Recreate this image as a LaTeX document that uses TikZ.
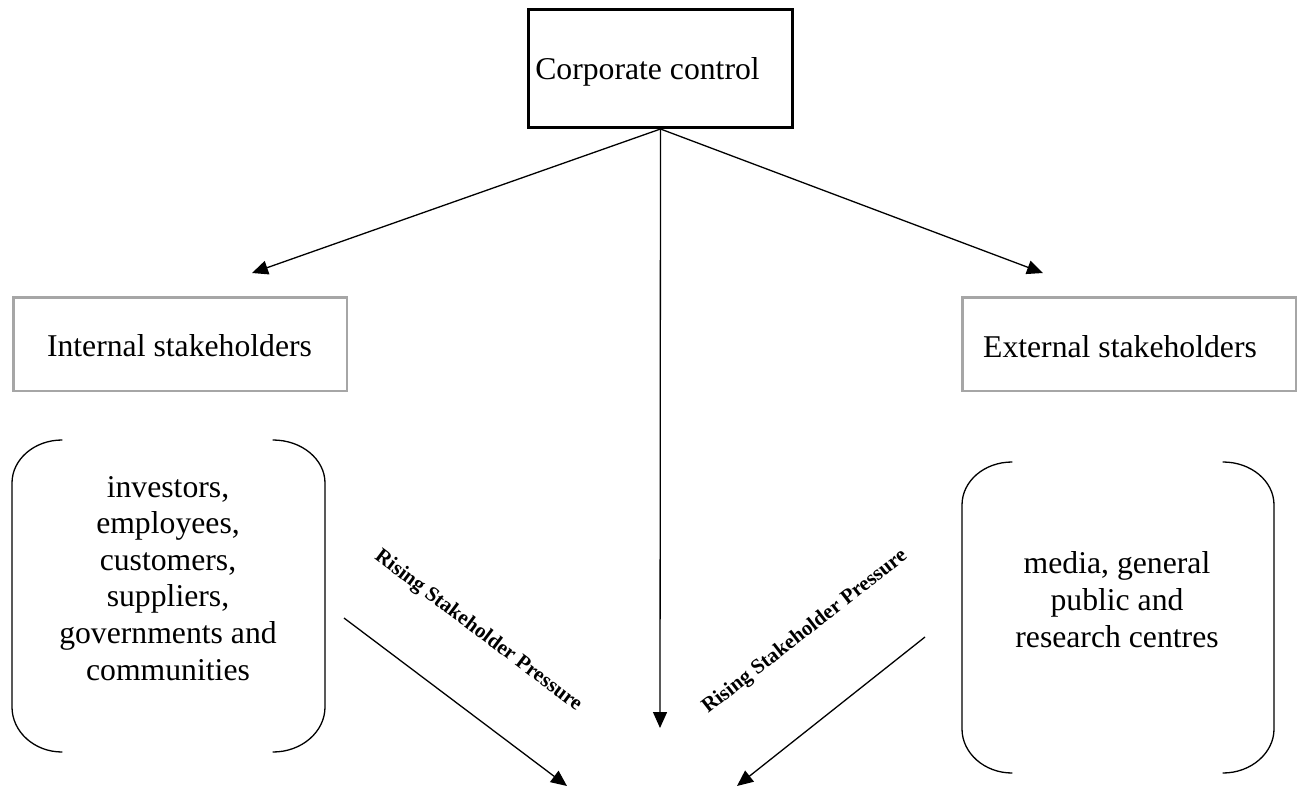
\documentclass[tikz,border=0pt]{standalone}
\usepackage{fontspec}
\setmainfont{Liberation Serif}
\usetikzlibrary{arrows.meta}
\definecolor{boxgray}{HTML}{A6A6A6}
\begin{document}
\begin{tikzpicture}[x=1pt,y=-1pt,
  arr/.style={line width=1.3pt, -{Triangle[length=16pt,width=14pt]}},
  grayframe/.style={draw=boxgray, line width=2.5pt, minimum width=333.5pt, minimum height=93.5pt, inner sep=0pt},
  bigtext/.style={font=\fontsize{31.7}{36.6}\selectfont, inner sep=0pt, anchor=base},
  listtext/.style={bigtext, align=center},
  ristext/.style={font=\fontsize{21}{24}\selectfont\bfseries, inner sep=0pt},
  bracket/.style={line width=1.3pt, line cap=round}]
\useasboundingbox (0,0) rectangle (1303,789);

% main box
\node[draw, line width=3pt, minimum width=264pt, minimum height=118pt, inner sep=0pt] (cc) at (660.5,68.5) {};
\node[bigtext] (cctext) at (647.5,80) {Corporate control};

% stakeholder boxes
\node[grayframe] (intbox) at (180,344) {};
\node[bigtext] (inttext) at (179.5,356) {Internal stakeholders};
\node[grayframe] (extbox) at (1129,344) {};
\node[bigtext] (exttext) at (1120,357) {External stakeholders};

% lists (base = baseline of last line)
\node[listtext] (intlist) at (168,680) {investors,\\employees,\\customers,\\suppliers,\\governments and\\communities};
\node[listtext] (extlist) at (1117,647) {media, general\\public and\\research centres};

% brackets
\draw[bracket] (62,440) .. controls (34.4,440) and (12,459.3) .. (12,483) -- (12,707) .. controls (12,731.8) and (34.4,752) .. (62,752);
\draw[bracket] (273,440) .. controls (301.7,440) and (325,459.3) .. (325,483) -- (325,707) .. controls (325,731.8) and (301.7,752) .. (273,752);
\draw[bracket] (1012,462) .. controls (984.4,462) and (962,481) .. (962,505) -- (962,729) .. controls (962,753) and (984.4,773) .. (1012,773);
\draw[bracket] (1223,462) .. controls (1251,462) and (1274,481) .. (1274,505) -- (1274,729) .. controls (1274,753) and (1251,773) .. (1223,773);

% rising labels
\node[ristext, rotate=-37] (risL) at (478,631) {Rising Stakeholder Pressure};
\node[ristext, rotate=38] (risR) at (805,632) {Rising Stakeholder Pressure};

% connector ends
\coordinate (tipL) at (252,273);
\coordinate (tipR) at (1043,273);
\coordinate (tipC) at (660,728);
\coordinate (startL) at (344,618);
\coordinate (endL) at (567,786);
\coordinate (startR) at (925,637);
\coordinate (endR) at (737,786);

\draw[arr] (cc.south) -- (tipL);
\draw[arr] (cc.south) -- (tipR);
\draw[arr] (cc.south) -- (tipC);
\draw[arr] (startL) -- (endL);
\draw[arr] (startR) -- (endR);
\end{tikzpicture}
\end{document}
